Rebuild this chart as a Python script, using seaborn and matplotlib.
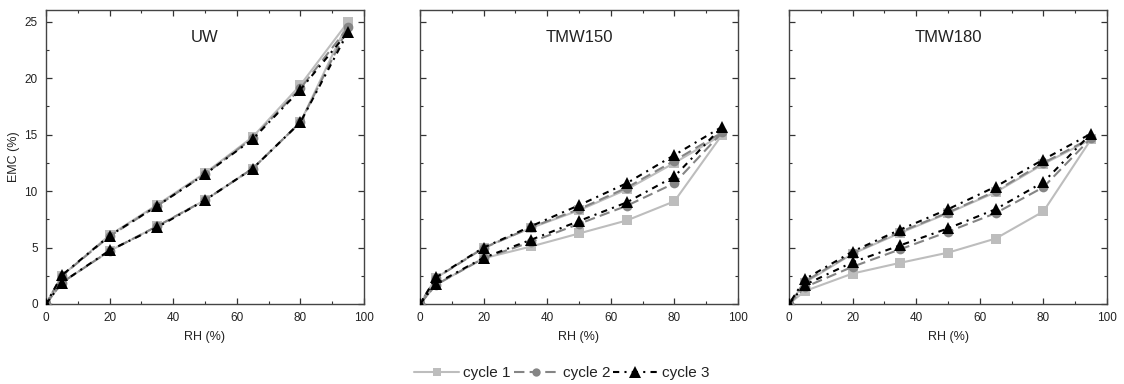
import numpy as np
import pandas as pd
import matplotlib
matplotlib.use("Agg")
import matplotlib.pyplot as plt
import seaborn as sns
from matplotlib.lines import Line2D

sns.set_theme(style="white")
plt.rcParams['font.family'] = ['Liberation Sans', 'DejaVu Sans']

# RH path: adsorption 0->95 then desorption 95->0
rh_path = [0, 5, 20, 35, 50, 65, 80, 95, 80, 65, 50, 35, 20, 5, 0]
panels = ["UW", "TMW150", "TMW180"]
cycles = ["cycle 1", "cycle 2", "cycle 3"]

uw_c1 = [0, 1.9, 4.7, 6.9, 9.2, 12.0, 16.1, 25.0, 19.4, 14.8, 11.6, 8.8, 6.1, 2.5, 0]
uw_c2 = [0, 1.9, 4.7, 6.9, 9.2, 12.0, 16.1, 24.5, 19.1, 14.7, 11.5, 8.7, 6.0, 2.5, 0]
uw_c3 = [0, 1.9, 4.75, 6.8, 9.2, 12.0, 16.1, 24.1, 19.0, 14.6, 11.5, 8.7, 6.05, 2.55, 0]

t150_c1 = [0, 1.7, 4.05, 5.1, 6.25, 7.4, 9.1, 15.0, 12.5, 10.15, 8.3, 6.75, 5.0, 2.3, 0]
t150_c2 = [0, 1.7, 4.05, 5.5, 7.1, 8.7, 10.7, 15.2, 12.7, 10.3, 8.4, 6.8, 4.95, 2.3, 0]
t150_c3 = [0, 1.8, 4.1, 5.7, 7.35, 9.0, 11.3, 15.7, 13.2, 10.7, 8.75, 6.9, 5.0, 2.35, 0]

t180_c1 = [0, 1.15, 2.7, 3.65, 4.55, 5.8, 8.2, 14.6, 12.4, 9.9, 8.05, 6.3, 4.45, 1.9, 0]
t180_c2 = [0, 1.5, 3.3, 4.85, 6.4, 8.05, 10.35, 14.7, 12.5, 10.0, 8.1, 6.4, 4.5, 2.0, 0]
t180_c3 = [0, 1.7, 3.7, 5.2, 6.7, 8.4, 10.8, 15.1, 12.8, 10.4, 8.4, 6.6, 4.65, 2.2, 0]

emc = {
    "UW": [uw_c1, uw_c2, uw_c3],
    "TMW150": [t150_c1, t150_c2, t150_c3],
    "TMW180": [t180_c1, t180_c2, t180_c3],
}

rows = []
for p in panels:
    for c, vals in zip(cycles, emc[p]):
        for i, (x, y) in enumerate(zip(rh_path, vals)):
            rows.append(dict(panel=p, cycle=c, order=i, RH=x, EMC=y))
df = pd.DataFrame(rows)

styles = {
    "cycle 1": dict(color="#bdbdbd", marker="s", markersize=7, linestyle="-", linewidth=1.5, zorder=2),
    "cycle 2": dict(color="#858585", marker="o", markersize=7, linestyle=(0, (5, 2.5)), linewidth=1.5, zorder=3),
    "cycle 3": dict(color="#000000", marker="^", markersize=9, linestyle=(0, (3, 2.5, 1, 2.5)), linewidth=1.5, zorder=4),
}

fig = plt.figure(figsize=(11.24, 3.84), dpi=100)
lefts = [46, 420, 789]
width = 318
axes = []
for p, l in zip(panels, lefts):
    ax = fig.add_axes([l / 1124, (384 - 304) / 384, width / 1124, 294 / 384])
    axes.append(ax)
    sub = df[df.panel == p]
    for c in cycles:
        s = styles[c]
        d = sub[sub.cycle == c].sort_values("order")
        sns.lineplot(data=d, x="RH", y="EMC", sort=False, estimator=None, ax=ax,
                     color=s["color"], marker=s["marker"], markersize=s["markersize"],
                     linestyle=s["linestyle"], linewidth=s["linewidth"],
                     markeredgewidth=0, zorder=s["zorder"], legend=False)
    ax.set_xlim(0, 100)
    ax.set_ylim(0, 26.05)
    ax.set_xticks([0, 20, 40, 60, 80, 100])
    ax.set_xticks(np.arange(10, 100, 20), minor=True)
    ax.set_yticks([0, 5, 10, 15, 20, 25])
    ax.set_yticks(np.arange(2.5, 26, 5), minor=True)
    ax.tick_params(which="both", direction="in", top=True, right=True, bottom=True, left=True,
                   colors="#333333", labelsize=8.5, labelcolor="#222222")
    ax.tick_params(which="major", length=4, width=0.9, pad=6)
    ax.tick_params(which="minor", length=2.5, width=0.8)
    for sp in ax.spines.values():
        sp.set_color("#444444")
        sp.set_linewidth(1.0)
    ax.set_xlabel("RH (%)", fontsize=9, color="#222222", labelpad=5)
    ax.set_ylabel("")
    ax.text(0.5, 0.905, p, transform=ax.transAxes, ha="center", va="center",
            fontsize=12, color="#222222")

axes[0].set_ylabel("EMC (%)", fontsize=9, color="#222222", labelpad=3)
for ax in axes[1:]:
    ax.set_yticklabels([])

handles = [Line2D([], [], color=styles[c]["color"], marker=styles[c]["marker"],
                  markersize=styles[c]["markersize"] - 1, linestyle=styles[c]["linestyle"],
                  linewidth=styles[c]["linewidth"], markeredgewidth=0) for c in cycles]
fig.legend(handles, cycles, loc="center", bbox_to_anchor=(0.5, 11 / 384),
           ncol=3, frameon=False, fontsize=11, handlelength=2.9, handletextpad=0.3,
           columnspacing=0.2, labelcolor="#222222")

fig.savefig("out.png", dpi=100)
